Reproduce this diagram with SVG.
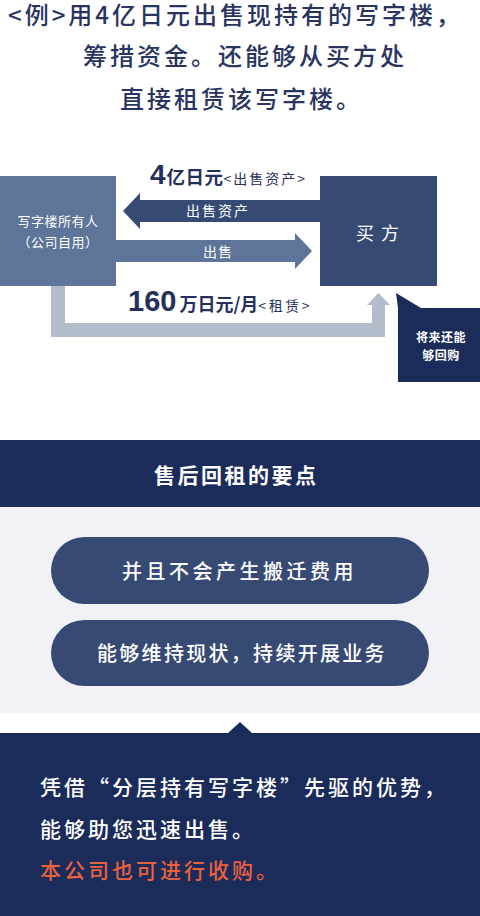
<svg xmlns="http://www.w3.org/2000/svg" width="480" height="916" viewBox="0 0 480 916">
<style>
text{font-family:"Noto Sans CJK SC","Noto Sans",sans-serif}
.title{font-size:24px;font-weight:500;fill:#2a3460;letter-spacing:3px}
.w{fill:#ffffff}
.num{font-family:"Liberation Sans","Noto Sans CJK SC",sans-serif;font-weight:700;fill:#26305a}
.bold{font-weight:700;fill:#26305a}
.sm{fill:#26305a}
.pill{font-size:20px;font-weight:500;fill:#ffffff}
.body{font-size:21px;font-weight:500;letter-spacing:3px}
</style>
<rect width="480" height="916" fill="#ffffff"/>
<g id="title">
<text class="title" x="8" y="24">&lt;例&gt;用4亿日元出售现持有的写字楼，</text>
<text class="title" x="83" y="65">筹措资金。还能够从买方处</text>
<text class="title" x="120" y="108">直接租赁该写字楼。</text>
</g>
<g id="connectors">
<path d="M51 286 V337 H385 V305 H390 L378.5 293 L367 305 H372 V323 H65 V286 Z" fill="#b3bccb"/>
<path d="M320 200 H140 V193 L123 211 L140 229 V222 H320 Z" fill="#374a74"/>
<path d="M116 240 H295 V233 L312 251 L295 269 V262 H116 Z" fill="#5e7599"/>
<text class="w" x="218" y="216" font-size="14" letter-spacing="2" text-anchor="middle">出售资产</text>
<text class="w" x="218" y="257" font-size="14" letter-spacing="1" text-anchor="middle">出售</text>
<text x="150" y="184"><tspan class="num" font-size="28">4</tspan><tspan class="bold" font-size="18.5" dx="1" letter-spacing="0.5">亿日元</tspan><tspan class="sm" font-size="14" letter-spacing="2">&lt;出售资产&gt;</tspan></text>
<text x="128" y="311"><tspan class="num" font-size="29">160</tspan><tspan class="bold" font-size="18" dx="3">万日元/月</tspan><tspan class="sm" font-size="14" letter-spacing="2.5">&lt;租赁&gt;</tspan></text>
</g>
<g id="owner">
<rect x="0" y="176" width="116" height="110" fill="#5e7599"/>
<text class="w" x="58" y="226" font-size="13" letter-spacing="0.5" text-anchor="middle">写字楼所有人</text>
<text class="w" x="58" y="247" font-size="13" letter-spacing="0.5" text-anchor="middle">（公司自用）</text>
</g>
<g id="buyer">
<rect x="320" y="176" width="117" height="110" fill="#374a74"/>
<text class="w" x="381" y="240" font-size="18" letter-spacing="7" text-anchor="middle">买方</text>
</g>
<g id="callout">
<path d="M396 293 L421 308 H480 V382 H398 V308 Z" fill="#1b2b5a"/>
<text class="w" x="441" y="342" font-size="12" font-weight="700" letter-spacing="0.5" text-anchor="middle">将来还能</text>
<text class="w" x="441" y="360" font-size="12" font-weight="700" letter-spacing="0.5" text-anchor="middle">够回购</text>
</g>
<g id="header">
<rect x="0" y="440" width="480" height="67" fill="#1b2b5a"/>
<text class="w" x="154" y="483" font-size="21" font-weight="700" letter-spacing="2.5">售后回租的要点</text>
</g>
<rect x="0" y="507" width="480" height="206" fill="#f0f2f6"/>
<g id="point1">
<rect x="51" y="537" width="378" height="67" rx="33.5" fill="#374a74"/>
<text class="pill" x="122" y="579" letter-spacing="3.5">并且不会产生搬迁费用</text>
</g>
<g id="point2">
<rect x="51" y="620" width="378" height="66" rx="33" fill="#374a74"/>
<text class="pill" x="97" y="661" letter-spacing="2.3">能够维持现状，持续开展业务</text>
</g>
<g id="summary">
<path d="M0 733 H228 L240 722 L252 733 H480 V916 H0 Z" fill="#1b2b5a"/>
<text class="body w" x="40" y="795">凭借“分层持有写字楼”先驱的优势，</text>
<text class="body w" x="40" y="837">能够助您迅速出售。</text>
<text class="body" x="40" y="878" fill="#e8623d">本公司也可进行收购。</text>
</g>
</svg>
